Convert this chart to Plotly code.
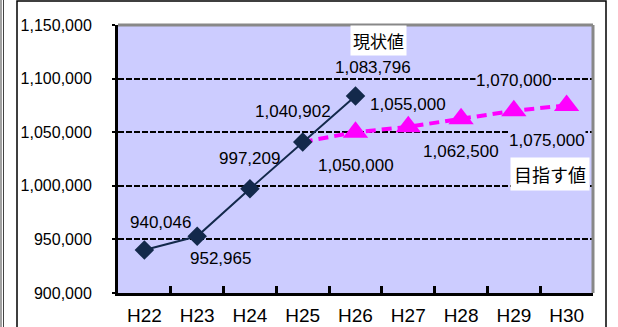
import plotly.graph_objects as go

categories = ["H22", "H23", "H24", "H25", "H26", "H27", "H28", "H29", "H30"]
actual = [940046, 952965, 997209, 1040902, 1083796, None, None, None, None]
target = [None, None, None, 1040902, 1050000, 1055000, 1062500, 1070000, 1075000]
y_ticks = [900000, 950000, 1000000, 1050000, 1100000, 1150000]
actual_name = "現状値"
target_name = "目指す値"

W, H = 618, 327
L, R, T, B = 118, 593, 25, 293


def px(xp):
    return (xp - L) / (R - L)


def py(yp):
    return (B - yp) / (B - T)


NAVY = "#13294B"
PINK = "#FF00FF"
BG = "#CCCCFF"
NUMFONT = "Liberation Sans, Arial, sans-serif"
JPFONT = "Noto Sans CJK JP, sans-serif"

fig = go.Figure()

fig.add_trace(go.Scatter(
    x=categories, y=target, mode="lines+markers",
    line=dict(color=PINK, width=4, dash="10px,6px"),
    marker=dict(symbol="triangle-up", size=[0, 0, 0, 0, 22, 22, 22, 22, 22], color=PINK,
                opacity=1, line=dict(width=0)),
    connectgaps=False, showlegend=False, cliponaxis=False, hoverinfo="skip",
))
fig.add_trace(go.Scatter(
    x=categories, y=actual, mode="lines+markers",
    line=dict(color=NAVY, width=2),
    marker=dict(symbol="diamond", size=15, color=NAVY, opacity=1, line=dict(width=0)),
    showlegend=False, cliponaxis=False, hoverinfo="skip",
))

annotations = []
# data labels: (dx, dy) offsets in pixels; dy positive = downward
actual_offsets = [(16, -28), (23, 22), (0, -30), (-10, -30), (17, -28)]
target_offsets = {4: (0, 33), 5: (0, -22), 6: (0, 33), 7: (0, -30), 8: (-20, 35)}
for i, v in enumerate(actual):
    if v is None:
        continue
    dx, dy = actual_offsets[i]
    annotations.append(dict(x=categories[i], y=v, xref="x", yref="y", text=f"{v:,}",
                            showarrow=False, xshift=dx, yshift=-dy,
                            xanchor="center", yanchor="middle",
                            font=dict(family=NUMFONT, size=17, color="black")))
for i, v in enumerate(target):
    if v is None or i not in target_offsets:
        continue
    dx, dy = target_offsets[i]
    annotations.append(dict(x=categories[i], y=v, xref="x", yref="y", text=f"{v:,}",
                            showarrow=False, xshift=dx, yshift=-dy, bgcolor=BG,
                            borderpad=0, xanchor="center", yanchor="middle",
                            font=dict(family=NUMFONT, size=17, color="black")))

annotations.append(dict(x=px(378.5), y=py(40.5), xref="paper", yref="paper",
                        xanchor="center", yanchor="middle",
                        text=actual_name, showarrow=False, bgcolor="white", borderpad=2,
                        font=dict(family=JPFONT, size=17, color="black")))
annotations.append(dict(x=px(549.5), y=py(173.5), xref="paper", yref="paper",
                        xanchor="center", yanchor="middle",
                        text=target_name, showarrow=False, bgcolor="white", borderpad=3,
                        font=dict(family=JPFONT, size=18, color="black")))

shapes = [
    # outer chart frame
    dict(type="rect", xref="paper", yref="paper", x0=px(17), x1=px(606), y0=py(340), y1=py(1),
         line=dict(color="black", width=1.5), layer="above"),
    dict(type="line", xref="paper", yref="paper", x0=px(1), x1=px(1), y0=py(0), y1=py(327),
         line=dict(color="#444444", width=1), layer="above"),
    dict(type="line", xref="paper", yref="paper", x0=px(3.5), x1=px(3.5), y0=py(0), y1=py(327),
         line=dict(color="#444444", width=1), layer="above"),
    # plot-area gray border top / right
    dict(type="line", xref="paper", yref="paper", x0=0, x1=1, y0=1, y1=1,
         line=dict(color="#888888", width=3), layer="above"),
    dict(type="line", xref="paper", yref="paper", x0=1, x1=1, y0=0, y1=1,
         line=dict(color="#888888", width=3), layer="above"),
]

fig.update_layout(
    width=W, height=H,
    margin=dict(l=L, r=W - R, t=T, b=H - B, autoexpand=False),
    paper_bgcolor="white", plot_bgcolor=BG,
    showlegend=False, hovermode=False,
    annotations=annotations, shapes=shapes,
    xaxis=dict(type="category", categoryorder="array", categoryarray=categories,
               range=[-0.5, len(categories) - 0.5], automargin=False,
               showgrid=False, zeroline=False,
               showline=True, linecolor="black", linewidth=3,
               ticks="inside", tickson="boundaries", ticklen=7, tickwidth=3, tickcolor="black",
               ticklabelstandoff=3,
               tickfont=dict(family=NUMFONT, size=19, color="black")),
    yaxis=dict(range=[900000, 1150000], tickvals=y_ticks, tickformat=",", automargin=False,
               showgrid=True, gridcolor="black", gridwidth=2, griddash="6px,2px",
               zeroline=False,
               showline=True, linecolor="black", linewidth=3,
               ticks="outside", ticklen=3, tickwidth=2, tickcolor="black",
               ticklabelstandoff=17,
               tickfont=dict(family=NUMFONT, size=16, color="black")),
)

fig.write_html("out.html", config={"displayModeBar": False, "staticPlot": True},
               post_script="document.body.style.margin='0';document.body.style.overflow='hidden';")
